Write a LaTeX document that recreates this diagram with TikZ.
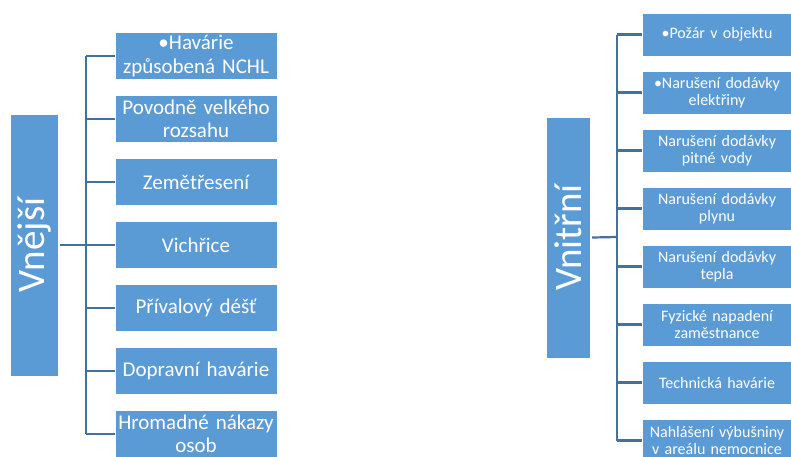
\documentclass[tikz,border=0pt]{standalone}
\usepackage{fontspec}
\setmainfont{Carlito}
\usetikzlibrary{positioning}
\definecolor{boxblue}{HTML}{5B9BD5}
\definecolor{lineblue}{HTML}{41719C}
\def\dyl{15.6pt}
\def\dyr{14.6pt}
\tikzstyle{box}=[draw=white,thin,fill=boxblue,text=white,align=center,inner sep=0pt]
\tikzstyle{parent}=[box,minimum width=48pt,minimum height=262pt,font=\fontsize{39}{44}\selectfont]
\tikzstyle{leftbox}=[box,minimum width=162pt,text width=160pt,minimum height=47pt,font=\fontsize{21}{23.5}\selectfont]
\tikzstyle{rightbox}=[box,minimum width=150pt,text width=148pt,minimum height=43pt,font=\fontsize{16}{17.5}\selectfont]
\tikzstyle{link}=[draw=lineblue,line width=2.2pt]
\newcommand{\newBox}[4]{\node[#3](#1)[#4]{#2};}
\newcommand{\newLink}[2]{\draw[link] (#1.west) -- (#2 |- #1.west);}

\begin{document}
\begin{tikzpicture}[x=1pt,y=-1pt]
      \useasboundingbox (0,0) rectangle (791,456);
      \clip (0,0) rectangle (791,456);
      % vnejsi
      \newBox{ext}{\rotatebox{90}{Vnější}}{parent}{at={(34,245)}}
      \newBox{l1}{•Havárie\\způsobená NCHL}{leftbox}{at={(196,56)}}
      \newBox{l2}{Povodně velkého\\rozsahu}{leftbox}{below=\dyl of l1}
      \newBox{l3}{Zemětřesení}{leftbox}{below=\dyl of l2}
      \newBox{l4}{Vichřice}{leftbox}{below=\dyl of l3}
      \newBox{l5}{Přívalový déšť}{leftbox}{below=\dyl of l4}
      \newBox{l6}{Dopravní havárie}{leftbox}{below=\dyl of l5}
      \newBox{l7}{Hromadné nákazy\\osob}{leftbox}{below=\dyl of l6}
      \coordinate (lt) at (86,245);
      \draw[link] (ext.east) ++(1.5pt,0) -- (lt);
      \draw[link] (lt |- l1.west) -- (lt |- l7.west);
      \foreach \i in {1,...,7} {\newLink{l\i}{lt}}
      % vnitrni
      \newBox{int}{\rotatebox{90}{Vnitřní}}{parent,minimum width=44pt,minimum height=241pt}{at={(568,237.5)}}
      \newBox{r1}{•Požár v objektu}{rightbox}{at={(717,34.5)}}
      \newBox{r2}{•Narušení dodávky\\elektřiny}{rightbox}{below=\dyr of r1}
      \newBox{r3}{Narušení dodávky\\pitné vody}{rightbox}{below=\dyr of r2}
      \newBox{r4}{Narušení dodávky\\plynu}{rightbox}{below=\dyr of r3}
      \newBox{r5}{Narušení dodávky\\tepla}{rightbox}{below=\dyr of r4}
      \newBox{r6}{Fyzické napadení\\zaměstnance}{rightbox}{below=\dyr of r5}
      \newBox{r7}{Technická havárie}{rightbox}{below=\dyr of r6}
      \newBox{r8}{Nahlášení výbušniny\\v areálu nemocnice}{rightbox}{below=\dyr of r7}
      \coordinate (rt) at (617,237);
      \draw[link] (int.east) ++(2pt,0) -- (rt);
      \draw[link] (rt |- r1.west) -- (rt |- r8.west);
      \foreach \i in {1,...,8} {\newLink{r\i}{rt}}
    \end{tikzpicture}
\end{document}
